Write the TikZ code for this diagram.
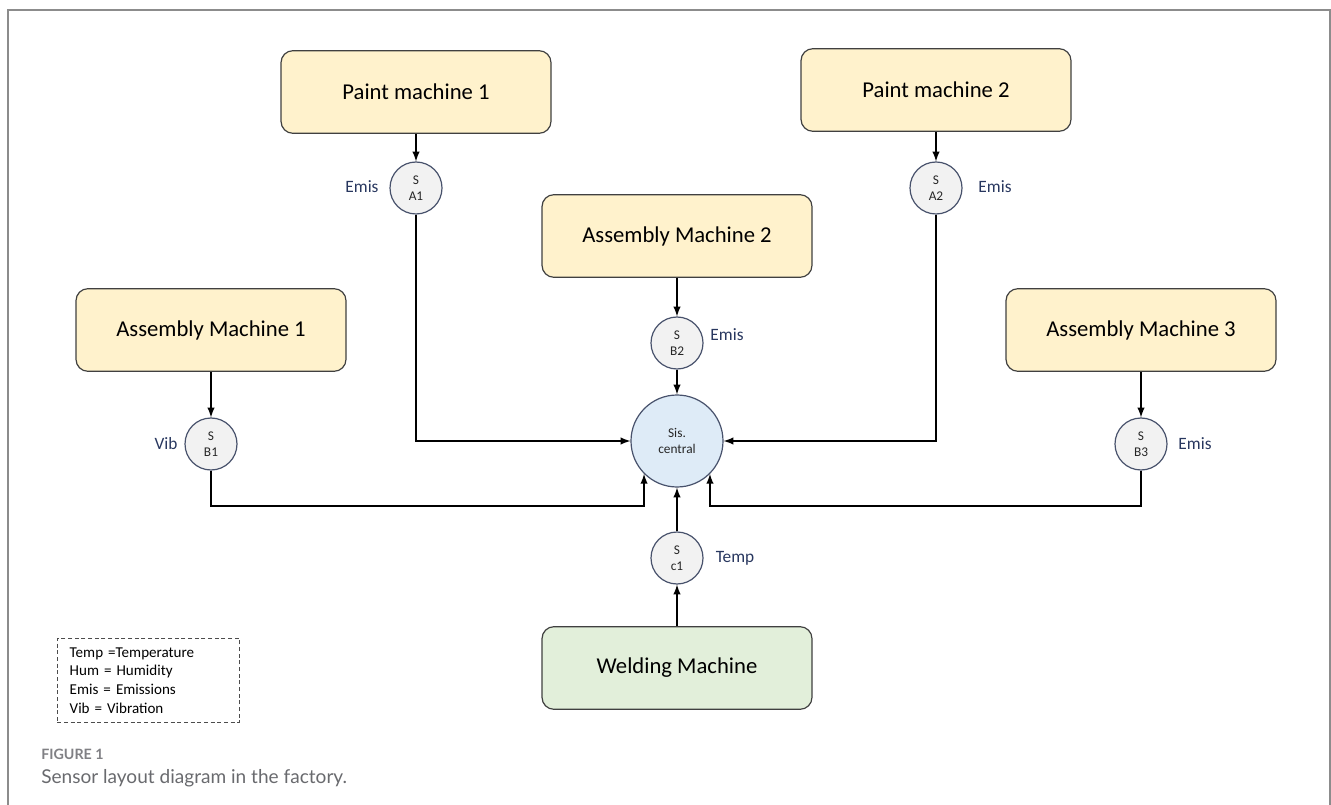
\documentclass[tikz,border=0pt]{standalone}
\usepackage{fontspec}
\setmainfont{Carlito}
\newfontfamily\capfont{Lato}
\usetikzlibrary{arrows}

\definecolor{boxfill}{RGB}{255,242,204}
\definecolor{weldfill}{RGB}{226,239,218}
\definecolor{cenfill}{RGB}{222,235,247}
\definecolor{senfill}{RGB}{242,242,242}
\definecolor{senline}{RGB}{72,82,108}
\definecolor{boxline}{RGB}{64,64,64}
\definecolor{labblue}{RGB}{40,55,95}
\definecolor{capgray}{RGB}{105,106,110}
\definecolor{framegray}{RGB}{140,140,140}

\begin{document}
\begin{tikzpicture}[x=0.75pt, y=-0.75pt,
    machine/.style={draw=boxline, line width=0.9pt, fill=boxfill, rounded corners=9pt,
      minimum width=202.5pt, minimum height=62pt, font=\fontsize{17}{20}\selectfont},
    sensor/.style={circle, draw=senline, line width=0.9pt, fill=senfill, minimum size=39pt,
      inner sep=0pt, align=center, text=black!85, font=\fontsize{10}{12}\selectfont},
    lab/.style={text=labblue, inner sep=0pt, font=\fontsize{13}{15}\selectfont},
    conn/.style={-latex, line width=1.5pt}]
  \useasboundingbox (0,0) rectangle (1331,805);
  % the frame round the figure
  \draw[framegray, line width=1.2pt] (8,805) -- (8,10) -- (1330,10) -- (1330,805);

  % machines
  \node[machine] (pm1) at (416,92) {Paint machine 1};
  \node[machine] (pm2) at (936,90) {Paint machine 2};
  \node[machine] (am2) at (677,236) {Assembly Machine 2};
  \node[machine] (am1) at (211,330) {Assembly Machine 1};
  \node[machine] (am3) at (1141,330) {Assembly Machine 3};
  \node[machine, fill=weldfill] (wm) at (677,668) {Welding Machine};

  % sensors and the central system
  \node[sensor] (sa1) at (416,188) {S\\A1};
  \node[sensor] (sa2) at (936,188) {S\\A2};
  \node[sensor] (sb2) at (677,343) {S\\B2};
  \node[sensor] (sb1) at (211,444) {S\\B1};
  \node[sensor] (sb3) at (1141,444) {S\\B3};
  \node[sensor] (sc1) at (677,558) {S\\c1};
  \node[sensor, fill=cenfill, minimum size=69pt] (cen) at (677,441) {Sis.\\central};

  % what each sensor measures
  \node[lab] (la1) at (362,187) {Emis};
  \node[lab] (la2) at (995,187) {Emis};
  \node[lab] (lb2) at (727,335) {Emis};
  \node[lab] (lb1) at (166,444) {Vib};
  \node[lab] (lb3) at (1195,444) {Emis};
  \node[lab] (lc1) at (735,558) {Temp};

  % draw the connections
  \coordinate (bus) at (0,506);
  \draw[conn] (pm1) -- (sa1);
  \draw[conn] (sa1) |- (cen);
  \draw[conn] (pm2) -- (sa2);
  \draw[conn] (sa2) |- (cen);
  \draw[conn] (am2) -- (sb2);
  \draw[conn] (sb2) -- (cen);
  \draw[conn] (am1) -- (sb1);
  \draw[conn] (sb1) |- (cen.-135 |- bus) -- (cen.-135);
  \draw[conn] (am3) -- (sb3);
  \draw[conn] (sb3) |- (cen.-45 |- bus) -- (cen.-45);
  \draw[conn] (wm) -- (sc1);
  \draw[conn] (sc1) -- (cen);

  % legend
  \node[draw=black!70, densely dashed, line width=0.6pt, anchor=north west, inner sep=0pt,
    minimum width=136.5pt, minimum height=63pt, text width=118pt, align=left,
    font=\fontsize{11.3}{14}\selectfont] (key) at (57,638)
    {Temp =Temperature\\Hum = Humidity\\Emis = Emissions\\Vib = Vibration};

  % caption
  \node[anchor=west, inner sep=0pt, text=capgray!85, font=\capfont\bfseries\fontsize{10.7}{12}\selectfont] (fig) at (41,754) {FIGURE 1};
  \node[anchor=west, inner sep=0pt, text=capgray, font=\capfont\fontsize{14.3}{17}\selectfont] (cap) at (41,778) {Sensor layout diagram in the factory.};
\end{tikzpicture}
\end{document}
